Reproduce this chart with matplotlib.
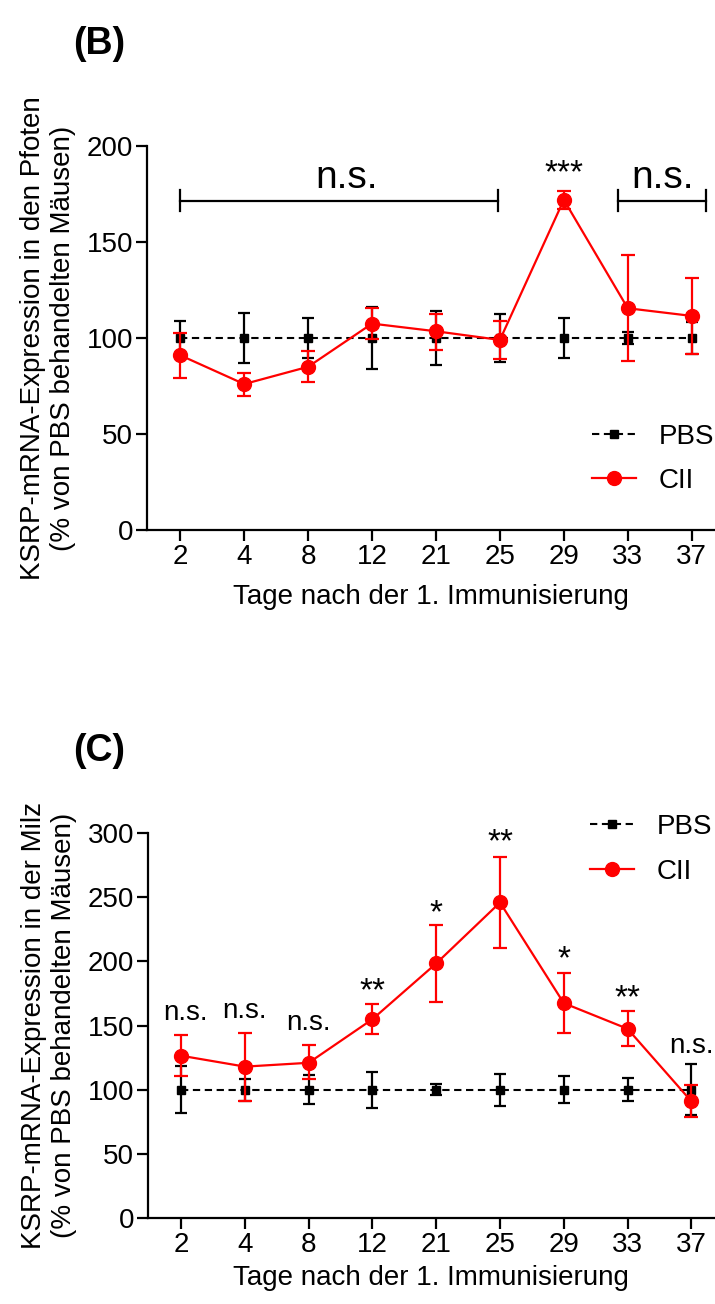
import numpy as np
import matplotlib
matplotlib.use("Agg")
import matplotlib.pyplot as plt

plt.rcParams['font.family'] = ['Liberation Sans', 'DejaVu Sans']

days = ['2', '4', '8', '12', '21', '25', '29', '33', '37']

# (B) Pfoten
pbs_b = [100, 100, 100, 100, 100, 100, 100, 100, 100]
pbs_b_err = [9, 13, 10.5, 16, 14, 12.5, 10.5, 3, 8.5]
cii_b = [91, 76, 85, 107.5, 103.5, 99, 172, 115.5, 111.5]
cii_b_lo = [12, 6, 8, 8, 10, 10, 5, 27.5, 20]
cii_b_hi = [11.5, 6, 8, 8, 9, 10, 4.5, 27.5, 20]

# (C) Milz
pbs_c = [100, 100, 100, 100, 100, 100, 100, 100, 100]
pbs_c_err = [18.5, 8.5, 11.5, 14, 4.5, 12.5, 10.5, 9, 20]
cii_c = [126.5, 118, 121, 155, 198.5, 246, 167.5, 147.5, 91]
cii_c_lo = [15.5, 27, 13, 11.5, 30, 35.5, 23.5, 13.5, 12]
cii_c_hi = [16, 26.5, 13.5, 12, 30, 35.5, 23.5, 13.5, 12.5]
sig_c = ['n.s.', 'n.s.', 'n.s.', '**', '*', '**', '*', '**', 'n.s.']
sig_c_y = [154, 156, 146.5, 170, 230.5, 286, 195, 164.5, 129]

FS = 20

fig = plt.figure(figsize=(7.15, 13.04), dpi=100)
ax1 = fig.add_axes([0.2056, 0.5936, 0.794, 0.2944])
ax2 = fig.add_axes([0.207, 0.066, 0.792, 0.295])

x = np.arange(len(days))


def draw(ax, pbs, pbs_err, cii, lo, hi, ymax, ystep, lpad):
    ax.errorbar(x, pbs, yerr=pbs_err, fmt='none', ecolor='black', elinewidth=1.6,
                capsize=4, capthick=1.6, zorder=2)
    ax.plot(x, pbs, color='black', ls=(0, (3.5, 2.2)), lw=1.5, marker='s', ms=6,
            label='PBS', zorder=3)
    ax.errorbar(x, cii, yerr=[lo, hi], fmt='none', ecolor='red', elinewidth=1.6,
                capsize=5, capthick=1.6, zorder=4)
    ax.plot(x, cii, color='red', lw=1.6, marker='o', ms=10, label='CII', zorder=5)
    ax.set_xlim(-0.52, 8.36)
    ax.set_ylim(0, ymax)
    ax.set_xticks(x)
    ax.set_xticklabels(days)
    ax.set_yticks(np.arange(0, ymax + 1, ystep))
    ax.spines['top'].set_visible(False)
    ax.spines['right'].set_visible(False)
    ax.spines['left'].set_linewidth(1.6)
    ax.spines['bottom'].set_linewidth(1.6)
    ax.tick_params(labelsize=FS, width=1.6, length=8, pad=2)
    ax.set_xlabel('Tage nach der 1. Immunisierung', fontsize=FS, labelpad=lpad)


draw(ax1, pbs_b, pbs_b_err, cii_b, cii_b_lo, cii_b_hi, 200, 50, 10)
ax1.set_ylabel('KSRP-mRNA-Expression in den Pfoten\n(% von PBS behandelten Mäusen)',
               fontsize=FS, labelpad=8, linespacing=1.2)

# significance brackets (B)
for x0, x1, xt in [(0, 4.97, 2.6), (6.84, 8.23, 7.55)]:
    ax1.plot([x0, x1], [171.5, 171.5], color='black', lw=1.6, clip_on=False)
    ax1.plot([x0, x0], [166, 177], color='black', lw=1.6, clip_on=False)
    ax1.plot([x1, x1], [166, 177], color='black', lw=1.6, clip_on=False)
    ax1.text(xt, 178, 'n.s.', fontsize=28, ha='center', va='baseline', clip_on=False)
ax1.text(6, 181, '***', fontsize=24, ha='center', va='baseline')

ax1.legend(loc='upper left', bbox_to_anchor=(0.828, 0.675), bbox_transform=fig.transFigure,
           frameon=False, fontsize=FS, handlelength=1.6, handletextpad=0.8,
           labelspacing=0.65, borderpad=0, borderaxespad=0)

draw(ax2, pbs_c, pbs_c_err, cii_c, cii_c_lo, cii_c_hi, 300, 50, 5)
ax2.set_ylabel('KSRP-mRNA-Expression in der Milz\n(% von PBS behandelten Mäusen)',
               fontsize=FS, labelpad=8, linespacing=1.2)
for i, (s, yv) in enumerate(zip(sig_c, sig_c_y)):
    xi = i + 0.07 if i == 0 else i
    fs = 24 if '*' in s else 20
    ax2.text(xi, yv, s, fontsize=fs, ha='center', va='baseline', clip_on=False)

ax2.legend(loc='upper left', bbox_to_anchor=(0.825, 0.376), bbox_transform=fig.transFigure,
           frameon=False, fontsize=FS, handlelength=1.6, handletextpad=0.8,
           labelspacing=0.7, borderpad=0, borderaxespad=0)

fig.text(0.102, 0.966, '(B)', fontsize=27, fontweight='bold', ha='left', va='center')
fig.text(0.102, 0.424, '(C)', fontsize=27, fontweight='bold', ha='left', va='center')

fig.savefig('out.png', dpi=100)
